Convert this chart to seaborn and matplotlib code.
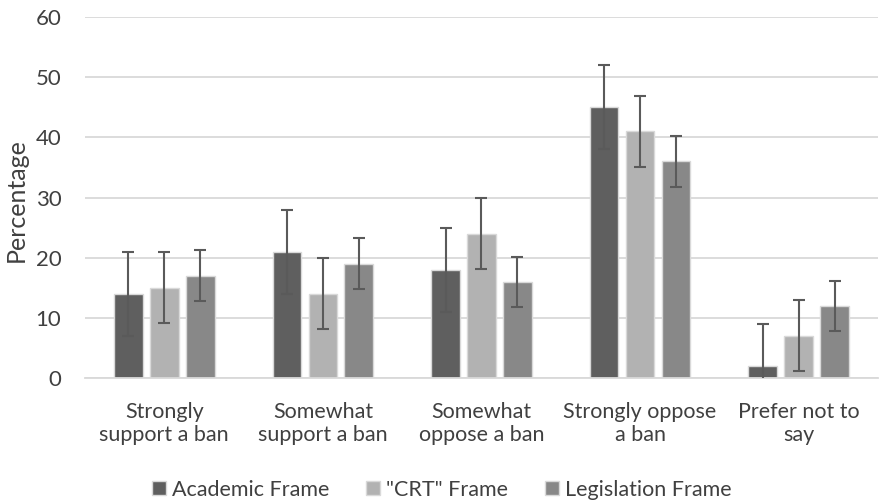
import pandas as pd
import numpy as np
import matplotlib
matplotlib.use('Agg')
import matplotlib.pyplot as plt
import seaborn as sns

categories = ['Strongly\nsupport a ban', 'Somewhat\nsupport a ban', 'Somewhat\noppose a ban',
              'Strongly oppose\na ban', 'Prefer not to\nsay']
frames = ['Academic Frame', '"CRT" Frame', 'Legislation Frame']
academic = [14, 21, 18, 45, 2]
crt = [15, 14, 24, 41, 7]
legislation = [17, 19, 16, 36, 12]
errors = [7.0, 5.9, 4.2]  # one error size per frame

df = pd.DataFrame({
    'category': categories * 3,
    'frame': [f for f in frames for _ in categories],
    'value': academic + crt + legislation,
    'err': [e for e in errors for _ in categories],
})

sns.set_theme(style='white')
plt.rcParams['font.family'] = ['Lato', 'DejaVu Sans']

fig = plt.figure(figsize=(8.81, 5.04), dpi=100)
ax = fig.add_axes([0.0965, 0.25, 0.9, 0.716])

palette = ['#5f5f5f', '#b2b2b2', '#888888']
sns.barplot(data=df, x='category', y='value', hue='frame', palette=palette,
            width=0.68, gap=0.2, errorbar=None, edgecolor='#d9d9d9', linewidth=1,
            saturation=1, ax=ax)

# error bars at the bar centres, in the order seaborn draws them (hue, then category)
bars = ax.patches[:len(df)]
xs = [b.get_x() + b.get_width() / 2 for b in bars]
ax.errorbar(xs, df['value'], yerr=df['err'], fmt='none', ecolor='#5a5a5a',
            elinewidth=1.5, capsize=4.3, capthick=1.5, zorder=5)

ax.set_ylim(0, 60)
ax.set_yticks(range(0, 61, 10))
ax.set_xlim(-0.5, 4.5)
ax.yaxis.grid(True, color='#d9d9d9', linewidth=1.3)
ax.set_axisbelow(True)
for s in ['top', 'right', 'left']:
    ax.spines[s].set_visible(False)
ax.spines['bottom'].set_color('#d9d9d9')
ax.spines['bottom'].set_linewidth(1.3)
ax.tick_params(axis='y', length=0, labelsize=16, colors='#404040', pad=17)
ax.tick_params(axis='x', length=0, labelsize=15.5, colors='#404040', pad=17)
for t in ax.get_xticklabels():
    t.set_linespacing(1.2)
ax.set_xlabel('')
ax.set_ylabel('Percentage', fontsize=18, color='#404040')
ax.yaxis.set_label_coords(-0.072, 0.493, transform=ax.transAxes)

ax.legend(loc='center', bbox_to_anchor=(0.45, -0.31), ncol=3, frameon=False,
          fontsize=15.5, handlelength=0.65, handleheight=0.65, handletextpad=0.3,
          columnspacing=1.7, labelcolor='#404040')

fig.savefig('out.png', dpi=100)
